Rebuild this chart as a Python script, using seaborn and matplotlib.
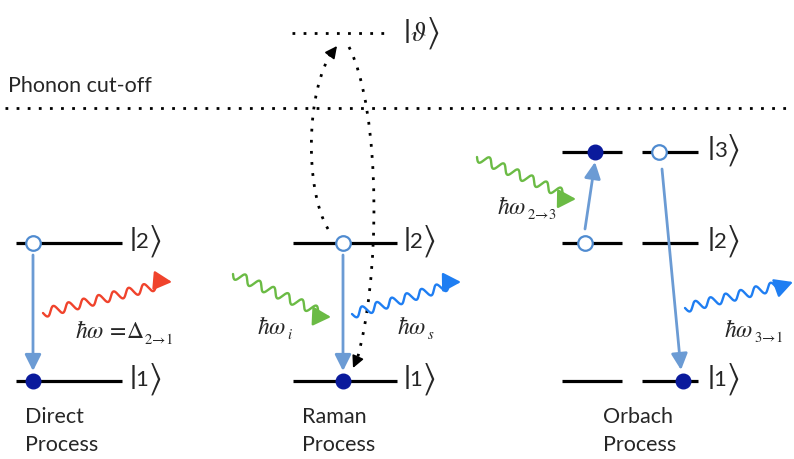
import numpy as np
import pandas as pd
import matplotlib
matplotlib.use("Agg")
import matplotlib.pyplot as plt
import seaborn as sns
from matplotlib.path import Path
from matplotlib.patches import PathPatch

# ---- diagram content -------------------------------------------------------
# energy levels (pixel rows of the canvas) and their ket labels
level_y = {"1": 381, "2": 243, "3": 152}
virtual_y = 33
cutoff_y = 108

# level segments: (process, level, x_start, x_end)
segments = [
    ("Direct", "2", 16, 122), ("Direct", "1", 16, 122),
    ("Raman", "2", 293, 397), ("Raman", "1", 293, 397),
    ("Orbach", "3", 562, 622), ("Orbach", "2", 562, 622), ("Orbach", "1", 562, 622),
    ("Orbach", "3", 642, 698), ("Orbach", "2", 642, 698), ("Orbach", "1", 642, 698),
]
ket_labels = [("2", 129), ("1", 129), ("2", 403), ("1", 403),
              ("3", 707), ("2", 707), ("1", 707)]

# electron occupations: x position, level, filled (initial open / final filled)
occ_x = [33, 33, 343, 343, 585, 595, 659, 683]
occ_level = ["2", "1", "2", "1", "2", "3", "3", "1"]
occ_state = ["empty", "full", "empty", "full", "empty", "full", "empty", "full"]

# transitions (x0, y0) -> (x1, y1)
transitions = [((33, 255), (33, 371)), ((343, 255), (343, 371)),
               ((585, 229), (595, 162)), ((662, 169), (681, 370))]

# phonons: start, tip, colour
phonons = [
    ((43, 313), (172, 282), "#f0432c"),
    ((233, 274), (331, 317), "#6bbb45"),
    ((352, 314), (461, 282), "#1f7ef2"),
    ((477, 157), (576, 199), "#6bbb45"),
    ((685, 308), (793, 282), "#1f7ef2"),
]
# phonon energies: main symbol, subscript, position
phonon_labels = [
    (r"$\hbar\omega\,=\!\Delta$", r"$2\!\rightarrow\!1$", 75, 331),
    (r"$\hbar\omega$", r"$i$", 257, 327),
    (r"$\hbar\omega$", r"$s$", 397, 327),
    (r"$\hbar\omega$", r"$2\!\rightarrow\!3$", 497, 207),
    (r"$\hbar\omega$", r"$3\!\rightarrow\!1$", 724, 330),
]
process_names = [("Direct\nProcess", 25), ("Raman\nProcess", 302), ("Orbach\nProcess", 603)]

# ---- styling ----------------------------------------------------------------
sns.set_theme(style="white")
plt.rcParams["font.family"] = ["Lato", "DejaVu Sans"]
plt.rcParams["mathtext.fontset"] = "stix"

W, H = 794, 459
fig = plt.figure(figsize=(W / 100, H / 100), dpi=100)
ax = fig.add_axes([0, 0, 1, 1])
ax.set_xlim(0, W)
ax.set_ylim(H, 0)
ax.axis("off")
renderer = fig.canvas.get_renderer()

LEVEL_LW = 2.3
DOT = dict(color="black", lw=2.0, linestyle=(0, (1, 3.0)), solid_capstyle="butt")


def right_edge(t):
    """x (data units) of the right edge of a drawn text."""
    bb = t.get_window_extent(renderer=renderer)
    return ax.transData.inverted().transform((bb.x1, bb.y0))[0]


def ket(x, y, inner, math=False):
    """Draw |inner> with a tall bar and bracket around the content."""
    bar = ax.text(x, y, r"$|$", fontsize=25, va="center", ha="left")
    x1 = right_edge(bar)
    if math:
        mid = ax.text(x1, y, inner, fontsize=20, va="center", ha="left")
    else:
        mid = ax.text(x1, y + 1, inner, fontsize=16, va="center", ha="left")
    ax.text(right_edge(mid) - 0.5, y, r"$\rangle$", fontsize=25, va="center", ha="left")


# phonon cut-off and virtual level
ax.plot([5, W], [cutoff_y, cutoff_y], **DOT)
ax.plot([292, 392], [virtual_y, virtual_y], **DOT)
ax.text(8, 86, "Phonon cut-off", fontsize=15.5, va="center", ha="left")
ket(403, virtual_y, r"$\vartheta$", math=True)

# energy levels
for proc, lev, x0, x1 in segments:
    ax.plot([x0, x1], [level_y[lev]] * 2, color="black", lw=LEVEL_LW, solid_capstyle="butt")
for lev, x in ket_labels:
    ket(x, level_y[lev] - 2, lev)

# transitions
for (x0, y0), (x1, y1) in transitions:
    ax.annotate("", xy=(x1, y1), xytext=(x0, y0),
                arrowprops=dict(arrowstyle="-|>,head_length=0.7,head_width=0.35",
                                color="#6b9bd4", lw=2.0, mutation_scale=14,
                                shrinkA=0, shrinkB=0))

# occupations
occ = pd.DataFrame({"x": occ_x, "y": [level_y[l] for l in occ_level], "state": occ_state})
sns.scatterplot(data=occ[occ.state == "full"], x="x", y="y", ax=ax, s=110,
                color="#0a1a9c", edgecolor="#0a1a9c", linewidth=1, zorder=5, legend=False)
sns.scatterplot(data=occ[occ.state == "empty"], x="x", y="y", ax=ax, s=110,
                facecolor="white", edgecolor="#4f8bd0", linewidth=1.6, zorder=5, legend=False)


# wavy phonons
def wavy(p0, p1, color, wavelength=15.5, amp=4.5, head=11):
    p0 = np.asarray(p0, float)
    p1 = np.asarray(p1, float)
    d = p1 - p0
    L = np.hypot(*d)
    u = d / L
    n = np.array([-u[1], u[0]])
    s = np.linspace(0, L - head, 400)
    pts = p0[None] + s[:, None] * u[None] + (amp * np.sin(2 * np.pi * s / wavelength))[:, None] * n[None]
    ax.plot(pts[:, 0], pts[:, 1], color=color, lw=1.7, solid_capstyle="round")
    tail = pts[-1]
    ax.annotate("", xy=tuple(p1), xytext=tuple(tail),
                arrowprops=dict(arrowstyle="-|>,head_length=0.85,head_width=0.45",
                                color=color, lw=1.7, mutation_scale=13,
                                shrinkA=0, shrinkB=0))


for p0, p1, c in phonons:
    wavy(p0, p1, c)
for main, sub, x, y in phonon_labels:
    t = ax.text(x, y, main, fontsize=17, va="center", ha="left")
    ax.text(right_edge(t) + 0.5, y + 8, sub, fontsize=10.5, va="center", ha="left")

# Raman virtual excursion (dotted loop)
up = Path([(328, 229), (305, 190), (305, 92), (333, 50)],
          [Path.MOVETO, Path.CURVE4, Path.CURVE4, Path.CURVE4])
down = Path([(349, 47), (381, 110), (381, 280), (356, 363)],
            [Path.MOVETO, Path.CURVE4, Path.CURVE4, Path.CURVE4])
for p in (up, down):
    ax.add_patch(PathPatch(p, facecolor="none", edgecolor="black", lw=2.0,
                           linestyle=(0, (1, 3.0))))
ax.annotate("", xy=(337, 46), xytext=(331, 54),
            arrowprops=dict(arrowstyle="-|>,head_length=0.6,head_width=0.3", color="black",
                            lw=1.2, mutation_scale=12, shrinkA=0, shrinkB=0))
ax.annotate("", xy=(353, 368), xytext=(357, 359),
            arrowprops=dict(arrowstyle="-|>,head_length=0.6,head_width=0.3", color="black",
                            lw=1.2, mutation_scale=12, shrinkA=0, shrinkB=0))

# process names
for txt, x in process_names:
    ax.text(x, 431, txt, fontsize=15.5, va="center", ha="left", linespacing=1.45)

fig.savefig("out.png", dpi=100)
